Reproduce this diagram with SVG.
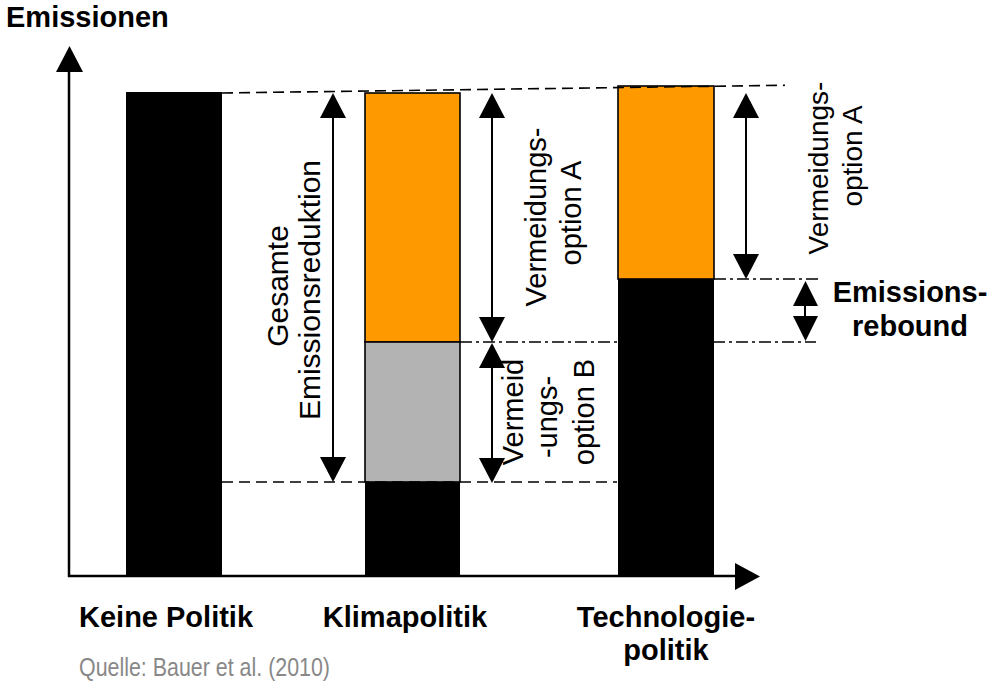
<svg xmlns="http://www.w3.org/2000/svg" width="992" height="682" viewBox="0 0 992 682">
<style>
.b{font-family:"Liberation Sans",Arial,sans-serif;font-weight:bold;font-size:29px;fill:#000}
.r{font-family:"Liberation Sans",Arial,sans-serif;font-size:29px;fill:#000}
.dash{stroke:#000;stroke-width:1.6;fill:none;stroke-dasharray:11 6}
.dd{stroke:#000;stroke-width:1.6;fill:none;stroke-dasharray:12 4 3 4}
.stem{stroke:#000;stroke-width:2;fill:none}
.head{fill:#000}
</style>
<rect width="992" height="682" fill="#fff"/>
<g id="axes">
<line x1="69" y1="577" x2="69" y2="70" stroke="#000" stroke-width="2.5"/>
<polygon points="56,72 83,72 69.5,46" fill="#000"/>
<line x1="68" y1="576" x2="737" y2="576" stroke="#000" stroke-width="2.5"/>
<polygon points="735,563 735,590 760,576.5" fill="#000"/>
<text class="b" x="6" y="27">Emissionen</text>
</g>
<g id="bar-keine">
<rect x="126" y="92" width="96" height="484" fill="#000"/>
<text class="b" x="79" y="627">Keine Politik</text>
</g>
<g id="bar-klima">
<rect x="365" y="93" width="95" height="249" fill="#ff9900" stroke="#000" stroke-width="1.6"/>
<rect x="365" y="342" width="95" height="140" fill="#b3b3b3" stroke="#000" stroke-width="1.6"/>
<rect x="365" y="482" width="95" height="94" fill="#000"/>
<text class="b" x="405" y="627" text-anchor="middle">Klimapolitik</text>
</g>
<g id="bar-tech">
<rect x="618" y="86" width="96" height="193" fill="#ff9900" stroke="#000" stroke-width="1.6"/>
<rect x="618" y="279" width="96" height="297" fill="#000"/>
<text class="b" x="666" y="627" text-anchor="middle">Technologie-</text>
<text class="b" x="666" y="660" text-anchor="middle">politik</text>
</g>
<g id="connectors">
<line class="dash" x1="222" y1="93" x2="785" y2="85.3"/>
<line class="dash" x1="222" y1="482" x2="617" y2="482"/>
<line class="dd" x1="460" y1="342" x2="816" y2="342"/>
<line class="dd" x1="714" y1="279" x2="818" y2="279"/>
<line class="stem" x1="333" y1="115" x2="333" y2="460"/>
<polygon class="head" points="320,118 346,118 333,93"/>
<polygon class="head" points="320,457 346,457 333,482"/>
<line class="stem" x1="492" y1="115" x2="492" y2="320"/>
<polygon class="head" points="479,118 505,118 492,93"/>
<polygon class="head" points="479,317 505,317 492,342"/>
<line class="stem" x1="492" y1="365" x2="492" y2="460"/>
<polygon class="head" points="479,368 505,368 492,343"/>
<polygon class="head" points="479,458 505,458 492,483"/>
<line class="stem" x1="746" y1="115" x2="746" y2="256"/>
<polygon class="head" points="733,118 759,118 746,93"/>
<polygon class="head" points="733,254 759,254 746,279"/>
<line class="stem" x1="805" y1="300" x2="805" y2="320"/>
<polygon class="head" points="793,306 818,306 805.5,281"/>
<polygon class="head" points="793,316 818,316 805.5,341"/>
</g>
<g id="label-gesamt">
<text class="r" style="font-size:30px" text-anchor="middle" transform="translate(288,286) rotate(-90)">Gesamte</text>
<text class="r" style="font-size:30px" text-anchor="middle" transform="translate(320,290) rotate(-90)">Emissionsreduktion</text>
</g>
<g id="label-klima-a">
<text class="r" text-anchor="middle" transform="translate(546,217) rotate(-90)">Vermeidungs-</text>
<text class="r" text-anchor="middle" transform="translate(581,213) rotate(-90)">option A</text>
</g>
<g id="label-klima-b">
<text class="r" text-anchor="middle" transform="translate(523,412) rotate(-90)">Vermeid</text>
<text class="r" text-anchor="middle" transform="translate(557,417) rotate(-90)">-ungs-</text>
<text class="r" text-anchor="middle" transform="translate(594,412) rotate(-90)">option B</text>
</g>
<g id="label-tech-a">
<text class="r" style="font-size:28px" text-anchor="middle" transform="translate(828,168) rotate(-90)">Vermeidungs-</text>
<text class="r" style="font-size:28px" text-anchor="middle" transform="translate(862,156) rotate(-90)">option A</text>
</g>
<g id="label-rebound">
<text class="b" x="910" y="302" text-anchor="middle">Emissions-</text>
<text class="b" x="910" y="336" text-anchor="middle">rebound</text>
</g>
<g id="source">
<text x="79" y="676" textLength="251" lengthAdjust="spacingAndGlyphs" style="font-family:'Liberation Sans Narrow','Liberation Sans',Arial,sans-serif;font-size:26px;fill:#888">Quelle: Bauer et al. (2010)</text>
</g>
</svg>
